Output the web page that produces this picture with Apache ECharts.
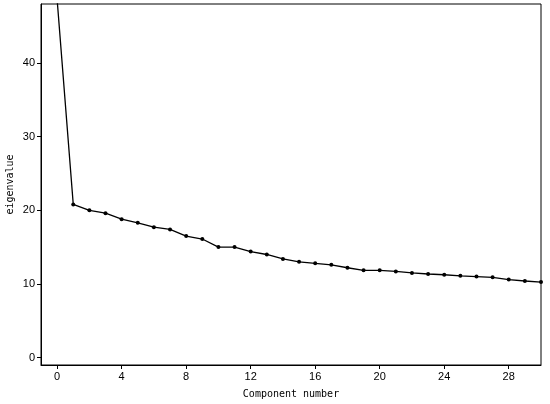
<!DOCTYPE html>
<html>
<head>
<meta charset="utf-8">
<script src="https://cdn.jsdelivr.net/npm/echarts@6/dist/echarts.min.js"></script>
<style>
  html, body { margin: 0; padding: 0; background: #fff; }
  #chart { width: 550px; height: 404px; }
</style>
</head>
<body>
<div id="chart"></div>
<script>
// component index and eigenvalues
const components = [0, 1, 2, 3, 4, 5, 6, 7, 8, 9, 10, 11, 12, 13, 14, 15,
  16, 17, 18, 19, 20, 21, 22, 23, 24, 25, 26, 27, 28, 29, 30];
const eigenvalues = [48.6, 20.8, 20.0, 19.6, 18.8, 18.3, 17.7, 17.4, 16.5, 16.1, 15.0,
  15.0, 14.4, 14.0, 13.4, 13.0, 12.8, 12.6, 12.2, 11.85, 11.85, 11.7, 11.5,
  11.35, 11.25, 11.1, 11.0, 10.9, 10.6, 10.4, 10.25];
const xTicks = [0, 4, 8, 12, 16, 20, 24, 28];
const yTicks = [0, 10, 20, 30, 40];

const chart = echarts.init(document.getElementById('chart'));
chart.setOption({
  animation: false,
  grid: {
    left: 41,
    right: 9,
    top: 4,
    bottom: 39,
    outerBoundsMode: 'none',
    containLabel: false,
    show: true,
    borderColor: '#000',
    borderWidth: 1,
    backgroundColor: 'transparent',
  },
  xAxis: {
    type: 'value',
    min: -1,
    max: 30,
    name: 'Component number',
    nameLocation: 'middle',
    nameGap: 24,
    nameTextStyle: { fontFamily: 'DejaVu Sans Mono', fontSize: 10, color: '#000' },
    axisLine: { show: true, onZero: false, lineStyle: { color: '#000', width: 1 } },
    axisTick: { show: true, customValues: xTicks, length: 4, lineStyle: { color: '#000' } },
    axisLabel: { customValues: xTicks, fontFamily: 'Liberation Sans', fontSize: 11, color: '#000', margin: 6 },
    splitLine: { show: false },
  },
  yAxis: {
    type: 'value',
    min: -1,
    max: 48,
    name: 'eigenvalue',
    nameLocation: 'middle',
    nameGap: 26,
    nameMoveOverlap: false,
    nameTextStyle: { fontFamily: 'DejaVu Sans Mono', fontSize: 10, color: '#000' },
    axisLine: { show: true, onZero: false, lineStyle: { color: '#000', width: 1 } },
    axisTick: { show: true, customValues: yTicks, length: 4, lineStyle: { color: '#000' } },
    axisLabel: { customValues: yTicks, fontFamily: 'Liberation Sans', fontSize: 11, color: '#000', margin: 6 },
    splitLine: { show: false },
  },
  series: [
    {
      type: 'line',
      data: components.map((c, i) => [c, eigenvalues[i]]),
      symbol: 'circle',
      symbolSize: 4,
      showSymbol: true,
      clip: true,
      itemStyle: { color: '#000' },
      lineStyle: { color: '#000', width: 1.3 },
    },
  ],
});
</script>
</body>
</html>
